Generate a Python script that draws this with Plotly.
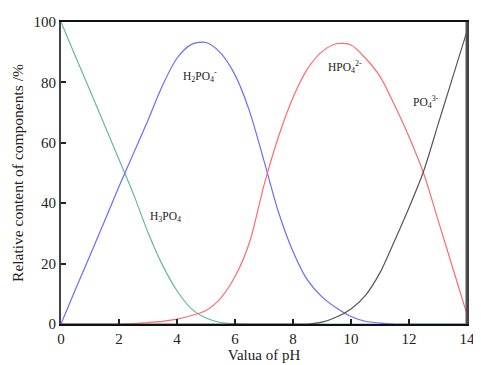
import plotly.graph_objects as go

ph = [0, 0.5, 1, 1.5, 2, 2.5, 3, 3.5, 4, 4.5, 5, 5.5, 6, 6.5, 7, 7.5, 8, 8.5, 9, 9.5, 10, 10.5, 11, 11.5, 12, 12.5, 13, 13.5, 14]
h3po4 = [100, 88.6, 77.3, 65.9, 54.5, 43, 30.3, 19.5, 11, 5, 2, 0.5, 0.1, 0, 0, 0, 0, 0, 0, 0, 0, 0, 0, 0, 0, 0, 0, 0, 0]
h2po4 = [0, 11.5, 22.7, 34, 45.5, 56.5, 67.5, 79, 88, 92.6, 93.2, 89.8, 82.5, 70.5, 54, 37, 24, 14.5, 9, 5.3, 2.5, 0.9, 0.3, 0, 0, 0, 0, 0, 0]
hpo4 = [0, 0, 0, 0, 0, 0.1, 0.5, 0.9, 1.6, 2.8, 4.5, 8.5, 15.7, 27, 46, 62, 75, 84.5, 90.2, 92.8, 92.4, 88, 82, 72.5, 62, 50, 34.5, 18.8, 3.2]
po4 = [0, 0, 0, 0, 0, 0, 0, 0, 0, 0, 0, 0, 0, 0, 0, 0, 0, 0, 0.6, 2.3, 5, 9.5, 17, 27.5, 38.5, 50.5, 66, 81.5, 97]

series = [
    ("H3PO4", h3po4, "#63b9a3"),
    ("H2PO4-", h2po4, "#6b6bff"),
    ("HPO4 2-", hpo4, "#ff6b6b"),
    ("PO4 3-", po4, "#555555"),
]

labels = [
    ("H<sub>3</sub>PO<sub>4</sub>", 3.6, 35.5),
    ("H<sub>2</sub>PO<sub>4</sub><sup>-</sup>", 4.8, 82),
    ("HPO<sub>4</sub><sup>2-</sup>", 9.8, 85),
    ("PO<sub>4</sub><sup>3-</sup>", 12.6, 73.5),
]

font_family = "Liberation Serif, Times New Roman, serif"

fig = go.Figure()
for name, vals, col in series:
    fig.add_trace(go.Scatter(x=ph, y=vals, mode="lines", name=name,
                             line=dict(color=col, width=1.2, shape="spline", smoothing=0.8)))

for text, x, y in labels:
    fig.add_annotation(x=x, y=y, text=text, showarrow=False,
                       font=dict(family=font_family, size=11.5, color="#222"))

fig.add_shape(type="line", xref="x", yref="y", x0=14, x1=14, y0=0, y1=100,
              line=dict(color="#555555", width=3))

# page body has an 8px margin, so the figure is offset by 8px
fig.update_layout(
    width=473, height=357,
    margin=dict(l=53, r=6, t=8, b=40),
    paper_bgcolor="white", plot_bgcolor="white",
    showlegend=False,
    font=dict(family=font_family, color="#222", size=15),
)
fig.update_xaxes(range=[0, 14], tickvals=[0, 2, 4, 6, 8, 10, 12, 14],
                 ticks="inside", ticklen=5, tickwidth=1.5, tickcolor="#222",
                 showline=True, linecolor="#111", linewidth=1.5, mirror=True,
                 showgrid=False, zeroline=False,
                 title=dict(text="Valua of pH", standoff=2, font=dict(size=15)),
                 tickfont=dict(size=15))
fig.update_yaxes(range=[0, 100], tickvals=[0, 20, 40, 60, 80, 100],
                 ticks="inside", ticklen=5, tickwidth=1.5, tickcolor="#222",
                 showline=True, linecolor="#444", linewidth=2, mirror=True,
                 showgrid=False, zeroline=False,
                 title=dict(text="Relative content of components /%", standoff=6, font=dict(size=15.5)),
                 tickfont=dict(size=15))

fig.write_html("out.html")
